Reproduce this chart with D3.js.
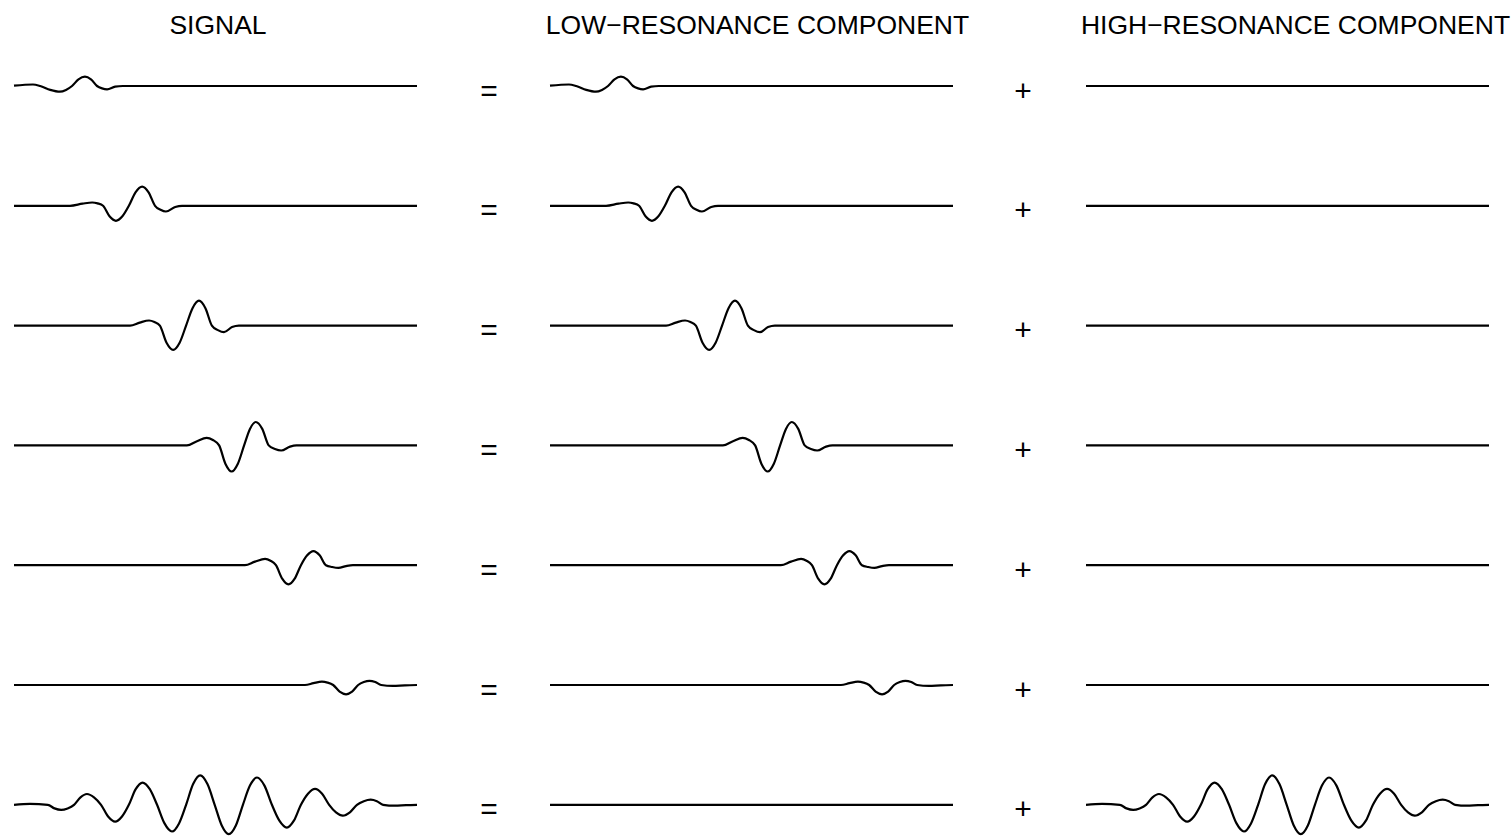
<!DOCTYPE html>
<html>
<head>
<meta charset="utf-8">
<script src="https://cdn.jsdelivr.net/npm/d3@7"></script>
<style>
  html, body { margin: 0; padding: 0; background: #fff; }
  svg { display: block; }
  text { font-family: "Liberation Sans", Arial, Helvetica, sans-serif; fill: #000; }
</style>
</head>
<body>
<svg id="chart" width="1512" height="837"></svg>
<script>
// ---- data (time 0..100, amplitude -1..1) ----
const columnTitles = ["SIGNAL", "LOW\u2212RESONANCE COMPONENT", "HIGH\u2212RESONANCE COMPONENT"];
const operators = ["=", "+"];

const pulse1 = [[0,0.01],[4.7,0.05],[6.5,0],[9.0,-0.13],[11.4,-0.19],[12.9,-0.13],[14.4,0],[16.0,0.22],[17.6,0.31],[19.1,0.22],[20.6,0],[21.85,-0.08],[23.1,-0.11],[25.1,-0.02],[27.0,0],[100,0]];
const pulse2 = [[0,0],[13.9,0],[17.0,0.07],[19.4,0.11],[20.75,0.08],[22.1,0],[23.7,-0.35],[25.3,-0.50],[26.9,-0.35],[28.5,0],[30.15,0.45],[31.8,0.64],[33.4,0.45],[35.0,0],[36.35,-0.13],[37.7,-0.19],[40.0,-0.04],[41.7,0],[100,0]];
const pulse3 = [[0,0],[28.8,0],[31.2,0.1],[33.5,0.17],[34.85,0.12],[36.2,0],[37.85,-0.57],[39.5,-0.81],[41.1,-0.57],[42.7,0],[44.3,0.58],[45.9,0.83],[47.5,0.58],[49.1,0],[50.6,-0.15],[52.1,-0.22],[54.1,-0.05],[55.8,0],[100,0]];
const pulse4 = [[0,0],[42.9,0],[45.4,0.14],[47.8,0.25],[49.35,0.18],[50.9,0],[52.45,-0.61],[54.0,-0.87],[55.55,-0.61],[57.1,0],[58.55,0.55],[60.0,0.78],[61.6,0.55],[63.2,0],[64.75,-0.12],[66.3,-0.17],[68.5,-0.04],[70.1,0],[100,0]];
const pulse5 = [[0,0],[57.3,0],[59.8,0.12],[62.3,0.21],[63.65,0.15],[65.0,0],[66.55,-0.45],[68.1,-0.64],[69.65,-0.45],[71.2,0],[72.75,0.33],[74.3,0.47],[75.85,0.33],[77.4,0],[78.95,-0.06],[80.5,-0.09],[82.4,-0.03],[84.1,0],[100,0]];
const pulse6 = [[0,0],[72.2,0],[74.3,0.06],[76.4,0.11],[77.8,0.08],[79.2,0],[80.8,-0.22],[82.4,-0.31],[83.9,-0.22],[85.4,0],[86.8,0.1],[88.2,0.14],[89.65,0.1],[91.1,0],[94.0,-0.03],[97.0,-0.01],[100,0]];
const burst  = [[0,0],[4.0,0.03],[8.4,0],[10.05,-0.12],[11.7,-0.17],[13.3,-0.12],[14.9,0],[16.5,0.25],[18.1,0.36],[19.85,0.25],[21.6,0],[23.35,-0.39],[25.1,-0.56],[26.8,-0.39],[28.5,0],[30.2,0.52],[31.9,0.74],[33.7,0.52],[35.5,0],[37.35,-0.62],[39.2,-0.89],[40.95,-0.62],[42.7,0],[44.45,0.69],[46.2,0.98],[48.0,0.69],[49.8,0],[51.55,-0.69],[53.3,-0.98],[55.05,-0.69],[56.8,0],[58.55,0.64],[60.3,0.91],[62.15,0.64],[64.0,0],[65.85,-0.53],[67.7,-0.76],[69.45,-0.53],[71.2,0],[72.95,0.37],[74.7,0.53],[76.45,0.37],[78.2,0],[79.9,-0.25],[81.6,-0.36],[83.35,-0.25],[85.1,0],[86.8,0.12],[88.5,0.17],[90.05,0.12],[91.6,0],[94.5,-0.03],[97.3,-0.01],[100,0]];
const flat   = [[0,0],[100,0]];

const signalRows = [pulse1, pulse2, pulse3, pulse4, pulse5, pulse6, burst];
const lowRows    = [pulse1, pulse2, pulse3, pulse4, pulse5, pulse6, flat];
const highRows   = [flat, flat, flat, flat, flat, flat, burst];

// ---- layout ----
const svg = d3.select("#chart");
const colLeft = [14, 550, 1086];
const colWidth = 403;
const titleShift = [2.5, 6, 8];
const rowBase0 = 86, rowStep = 119.8;
const opX = [489, 1023];

const x = d3.scaleLinear().domain([0, 100]).range([0, colWidth]);
const y = d3.scaleLinear().domain([-1, 1]).range([30, -30]);
const line = d3.line().x(d => x(d[0])).y(d => y(d[1])).curve(d3.curveMonotoneX);

const columns = [signalRows, lowRows, highRows];

// titles
svg.selectAll("text.title").data(columnTitles).join("text")
  .attr("class", "title")
  .attr("x", (d, i) => colLeft[i] + colWidth / 2 + titleShift[i])
  .attr("y", 34)
  .attr("text-anchor", "middle")
  .attr("font-size", 26.5)
  .text(d => d);

columns.forEach((rows, ci) => {
  const g = svg.append("g").attr("transform", `translate(${colLeft[ci]},0)`);
  g.selectAll("path").data(rows).join("path")
    .attr("transform", (d, ri) => `translate(0,${rowBase0 + ri * rowStep})`)
    .attr("d", line)
    .attr("fill", "none")
    .attr("stroke", "#000")
    .attr("stroke-width", 2.2);
});

// operators
for (let ri = 0; ri < signalRows.length; ri++) {
  operators.forEach((op, oi) => {
    svg.append("text")
      .attr("x", opX[oi])
      .attr("y", rowBase0 + ri * rowStep + 4)
      .attr("text-anchor", "middle")
      .attr("dominant-baseline", "central")
      .attr("font-size", 30)
      .text(op);
  });
}
</script>
</body>
</html>
